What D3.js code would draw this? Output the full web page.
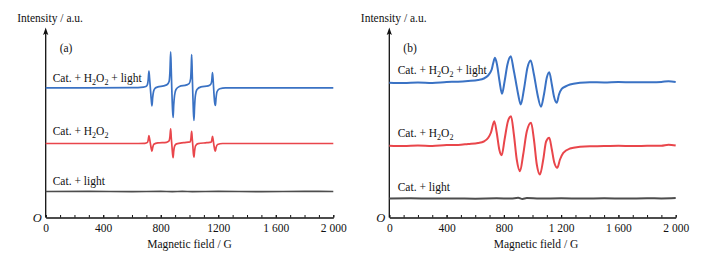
<!DOCTYPE html>
<html>
<head>
<meta charset="utf-8">
<script src="https://cdn.jsdelivr.net/npm/d3@7"></script>
<style>
    body { margin: 0; background: #fff; }
    svg { display: block; font-family: "Liberation Serif", "Times New Roman", serif; }
</style>
</head>
<body>
<svg id="epr-svg" width="701" height="261"></svg>
<script>
// EPR spectra, two panels (a) and (b)
const fieldTicks = [0, 400, 800, 1200, 1600, 2000];
const tickLabelsA = ['0', '400', '800', '1200', '1 600', '2 000'];
const tickLabelsB = ['0', '400', '800', '1 200', '1 600', '2 000'];
const seriesLabels = ['Cat. + H2O2 + light', 'Cat. + H2O2', 'Cat. + light'];

// panel (a): [field G, intensity a.u.]
const aLight = [
    [0, 64.8], [300, 64.8], [600, 64.9], [680, 65.2], [700, 65.6], [708, 66.6], [713, 69],
    [718, 73.2], [722, 70], [728, 64.5], [734, 59], [739, 55.8], [744, 60], [750, 63],
    [760, 64.6], [780, 65.3], [820, 65.8], [845, 66.5], [858, 68], [864, 73], [869, 82.8],
    [873, 74], [877, 64], [882, 54], [886, 50], [890, 56], [896, 61], [906, 64], [930, 65.5],
    [980, 66.3], [998, 67], [1008, 69.5], [1012, 75], [1015, 81.5], [1019, 72], [1023, 62],
    [1027, 53], [1031, 48.5], [1035, 55], [1041, 61], [1052, 64], [1080, 65.3], [1130, 65.8],
    [1148, 66.6], [1155, 68.5], [1160, 72.4], [1165, 68], [1170, 62], [1175, 57.5], [1180, 56],
    [1185, 60], [1192, 63], [1210, 64.4], [1250, 64.8], [1500, 64.8], [2000, 64.8]
];
const aH2O2 = [
    [0, 37], [300, 37], [600, 37], [690, 37.1], [708, 37.6], [713, 38.8], [718, 41],
    [722, 39.5], [728, 37], [734, 34.5], [739, 33.2], [744, 35], [752, 36.6], [780, 37.3],
    [840, 37.6], [858, 38.3], [864, 40.5], [869, 44.3], [873, 40], [877, 36.5], [882, 32],
    [886, 29.9], [890, 33], [897, 35.8], [910, 36.8], [960, 37.4], [1005, 37.8], [1010, 39.5],
    [1015, 43.1], [1019, 39.5], [1023, 36], [1027, 32], [1031, 30.2], [1035, 33], [1042, 35.8],
    [1060, 36.9], [1120, 37.4], [1150, 37.7], [1155, 38.6], [1160, 40.6], [1165, 38.5],
    [1170, 36], [1175, 34], [1180, 33.2], [1185, 35], [1195, 36.5], [1230, 37], [2000, 37]
];
const aCat = [
    [0, 13], [300, 13.02], [600, 12.98], [800, 13.04], [880, 12.96], [950, 13.05],
    [1020, 12.97], [1200, 13.02], [1500, 12.98], [1800, 13.02], [2000, 13]
];

// panel (b)
const bLight = [
    [0, 67.35], [100, 67.2], [200, 67.5], [300, 67.3], [400, 67.75], [480, 67.9], [550, 68.25],
    [620, 68.75], [660, 69.5], [690, 71], [705, 72.5], [715, 74], [725, 77], [738, 79.85],
    [752, 76.5], [770, 68], [787, 61.85], [805, 68], [825, 76.5], [848, 80.65], [868, 74],
    [885, 67.4], [900, 61.5], [918, 56.5], [940, 64], [965, 75], [987, 78.5], [1010, 71.5],
    [1035, 61.5], [1059, 55.35], [1080, 61.5], [1100, 70], [1117, 72.65], [1135, 66.5],
    [1150, 60.5], [1169, 57.35], [1185, 61.5], [1204, 64.35], [1230, 65.5], [1262, 66.5],
    [1332, 67.35], [1401, 67.65], [1500, 67.5], [1600, 67.75], [1700, 67.6], [1800, 67.65],
    [1900, 67.8], [1950, 68.1], [2000, 67.75]
];
const bH2O2 = [
    [0, 35.85], [100, 35.7], [200, 36], [300, 35.8], [400, 36.25], [480, 36.3], [550, 36.75],
    [620, 37.25], [660, 38], [691, 39.85], [710, 42.5], [733, 48.15], [750, 42.5], [768, 34],
    [785, 31.15], [805, 39], [828, 48], [850, 50.65], [870, 41.5], [890, 29], [913, 23.15],
    [935, 31.5], [960, 43], [990, 47.35], [1010, 39], [1030, 26.5], [1052, 21.5], [1075, 29],
    [1095, 38], [1117, 39.85], [1135, 34], [1152, 27.5], [1173, 24.85], [1192, 29],
    [1215, 32.35], [1262, 34.5], [1332, 35.35], [1401, 35.65], [1500, 35.7], [1600, 35.85],
    [1700, 35.75], [1800, 35.85], [1900, 35.9], [1950, 36.4], [2000, 36]
];
const bCat = [
    [0, 9.5], [150, 9.6], [300, 9.45], [450, 9.55], [600, 9.42], [750, 9.58], [850, 9.5],
    [900, 9.85], [930, 9.25], [960, 9.7], [1050, 9.45], [1200, 9.58], [1350, 9.45], [1500, 9.58],
    [1650, 9.5], [1800, 9.62], [1900, 9.55], [2000, 9.7]
];

(function() {
    const svg = d3.select('#epr-svg');
    const colors = ['#3a72c4', '#e9464b', '#4d4d4d'];
    const serif = '"Liberation Serif", "Times New Roman", serif';
    const axisBottomY = 217.5;
    const axisTopY = 27.5;

    const panels = [
        {
            x0: 45.7, x1: 333.3, tickLabels: tickLabelsA, series: [aLight, aH2O2, aCat],
            tag: '(a)', labelX: 52.7, labelY: [82, 135, 184.5], titleX: 189.5, strokeW: 1.7
        },
        {
            x0: 389.3, x1: 675.7, tickLabels: tickLabelsB, series: [bLight, bH2O2, bCat],
            tag: '(b)', labelX: 397.7, labelY: [74, 137, 190.5], titleX: 536, strokeW: 2
        }
    ];

    const yScale = d3.scaleLinear()
        .domain([0, 95])
        .range([axisBottomY, axisTopY]);

    // text with digit subscripts
    function addLabel(g, str, x, y) {
        const t = g.append('text')
            .attr('x', x)
            .attr('y', y)
            .attr('font-family', serif)
            .attr('font-size', '11.5px')
            .attr('fill', '#111');
        let shifted = false;
        str.split(/(\d)/).forEach((part, i) => {
            if (!part) return;
            const sub = i % 2 === 1;
            const ts = t.append('tspan').text(part);
            if (sub) {
                ts.attr('dy', 3).attr('font-size', '8px');
                shifted = true;
            } else if (shifted) {
                ts.attr('dy', -3);
                shifted = false;
            }
        });
    }

    panels.forEach(p => {
        const g = svg.append('g');

        const xScale = d3.scaleLinear()
            .domain([0, 2000])
            .range([p.x0, p.x1]);

        // minor ticks
        g.append('g')
            .attr('transform', `translate(0, ${axisBottomY})`)
            .call(d3.axisBottom(xScale)
                .tickValues(d3.range(0, 2001, 100))
                .tickSize(-2.5)
                .tickSizeOuter(0)
                .tickFormat(''))
            .call(a => a.select('.domain').remove())
            .selectAll('line').attr('stroke', '#111').attr('stroke-width', 1);

        // main x axis
        const xAxis = g.append('g')
            .attr('transform', `translate(0, ${axisBottomY})`)
            .call(d3.axisBottom(xScale)
                .tickValues(fieldTicks)
                .tickSize(-2.5)
                .tickSizeOuter(0)
                .tickPadding(6)
                .tickFormat((d, i) => p.tickLabels[i]));
        xAxis.attr('font-family', serif);
        xAxis.select('.domain').attr('stroke', '#111').attr('stroke-width', 1.3);
        xAxis.selectAll('line').attr('stroke', '#111');
        xAxis.selectAll('text')
            .attr('font-family', serif)
            .attr('font-size', '11.5px')
            .attr('fill', '#111');

        // y axis with arrow
        g.append('line')
            .attr('x1', p.x0).attr('x2', p.x0)
            .attr('y1', axisBottomY).attr('y2', axisTopY + 4)
            .attr('stroke', '#111')
            .attr('stroke-width', 1.3);
        g.append('path')
            .attr('d', `M${p.x0},${axisTopY} L${p.x0 - 2.6},${axisTopY + 7.5} L${p.x0},${axisTopY + 6} L${p.x0 + 2.6},${axisTopY + 7.5} Z`)
            .attr('fill', '#111');

        g.append('text')
            .attr('x', p.x0 - 8.5)
            .attr('y', axisBottomY + 4.5)
            .attr('text-anchor', 'middle')
            .attr('font-family', serif)
            .attr('font-size', '12.5px')
            .attr('font-style', 'italic')
            .attr('fill', '#111')
            .text('O');

        g.append('text')
            .attr('x', p.x0 - 28.5)
            .attr('y', 21.5)
            .attr('font-family', serif)
            .attr('font-size', '11.5px')
            .attr('fill', '#111')
            .text('Intensity / a.u.');

        g.append('text')
            .attr('x', p.x0 + 14)
            .attr('y', 51.5)
            .attr('font-family', serif)
            .attr('font-size', '11.5px')
            .attr('fill', '#111')
            .text(p.tag);

        g.append('text')
            .attr('x', p.titleX)
            .attr('y', 247.5)
            .attr('text-anchor', 'middle')
            .attr('font-family', serif)
            .attr('font-size', '11.5px')
            .attr('fill', '#111')
            .text('Magnetic field / G');

        // spectra
        const line = d3.line()
            .x(d => xScale(d[0]))
            .y(d => yScale(d[1]))
            .curve(d3.curveMonotoneX);

        p.series.forEach((data, i) => {
            g.append('path')
                .datum(data)
                .attr('fill', 'none')
                .attr('stroke', colors[i])
                .attr('stroke-width', p.strokeW)
                .attr('stroke-linejoin', 'round')
                .attr('d', line);
            addLabel(g, seriesLabels[i], p.labelX, p.labelY[i]);
        });
    });
})();
</script>
</body>
</html>
